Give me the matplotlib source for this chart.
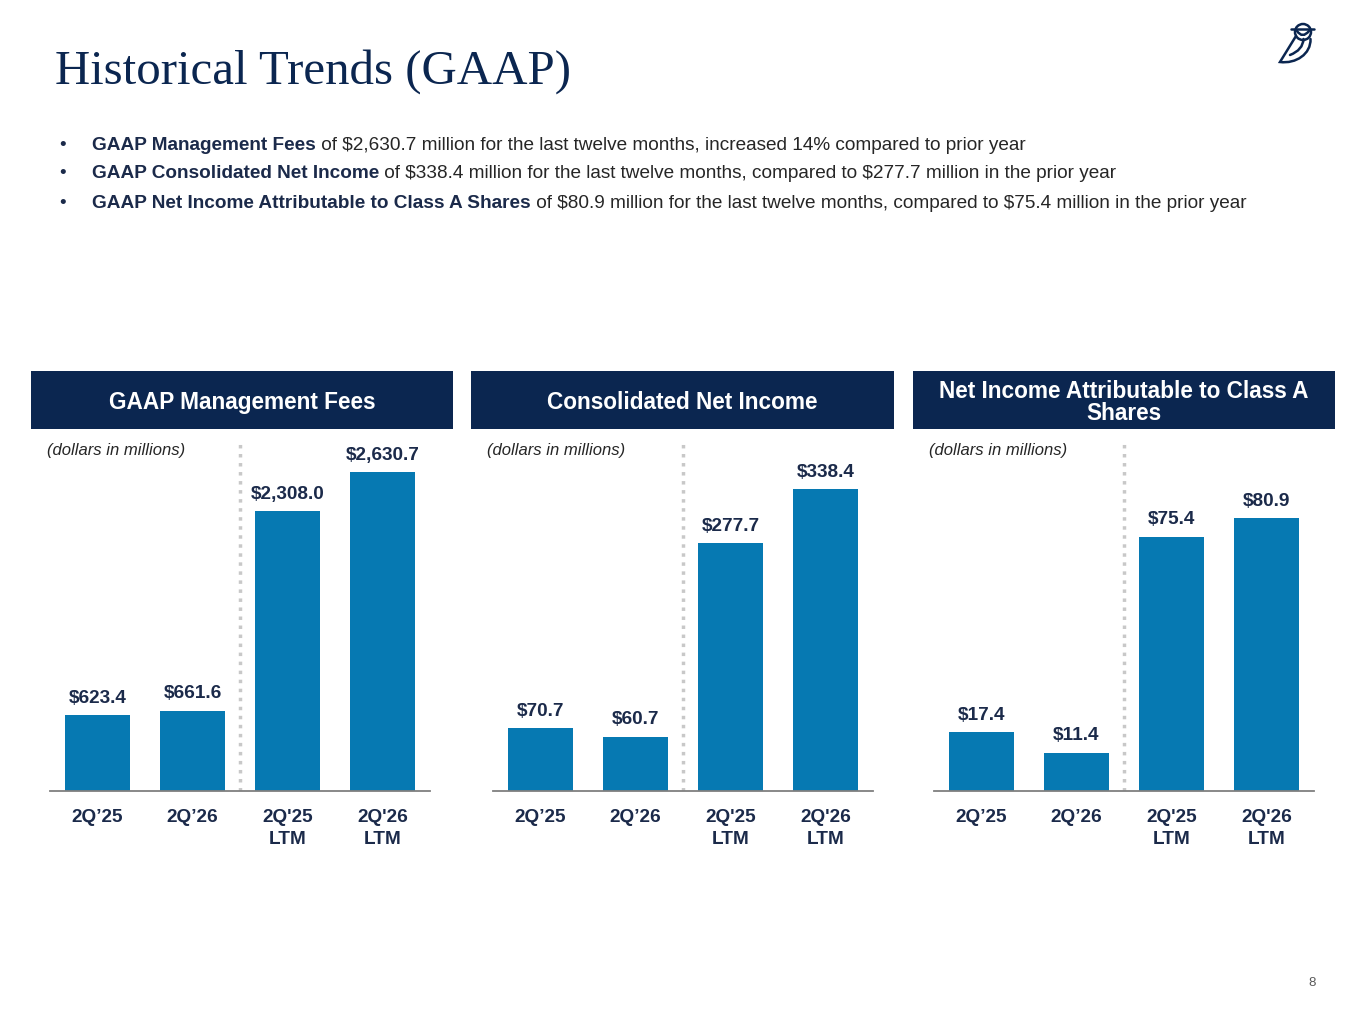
import matplotlib
matplotlib.use('Agg')
import matplotlib.pyplot as plt
from matplotlib.patches import Rectangle, Circle, PathPatch
from matplotlib.path import Path

W, H = 1365, 1024

NAVY = '#0b2650'
TEXT_NAVY = '#1b2a4a'
BAR_BLUE = '#0679b2'
GRAY_TEXT = '#262626'

title = 'Historical Trends (GAAP)'

bullets = [
    ('GAAP Management Fees', ' of $2,630.7 million for the last twelve months, increased 14% compared to prior year'),
    ('GAAP Consolidated Net Income', ' of $338.4 million for the last twelve months, compared to $277.7 million in the prior year'),
    ('GAAP Net Income Attributable to Class A Shares', ' of $80.9 million for the last twelve months, compared to $75.4 million in the prior year'),
]

categories = ['2Q\u201925', '2Q\u201926', "2Q'25\nLTM", "2Q'26\nLTM"]

panel_titles = ['GAAP Management Fees', 'Consolidated Net Income', 'Net Income Attributable to Class A\nShares']

mgmt_fees = [623.4, 661.6, 2308.0, 2630.7]
consolidated_ni = [70.7, 60.7, 277.7, 338.4]
class_a_ni = [17.4, 11.4, 75.4, 80.9]

panel_values = [mgmt_fees, consolidated_ni, class_a_ni]

# layout in pixels
header_boxes = [(31, 453), (471, 894), (913, 1335)]
axes_x = [(50, 430), (493, 873), (934, 1314)]
axes_top, axes_bottom = 440, 791
tallest_bar_px = [319, 302, 273]


def fx(px):
    return px / W


def fy(py):
    return 1 - py / H


plt.rcParams['font.family'] = ['Liberation Sans', 'DejaVu Sans']
plt.rcParams['text.parse_math'] = False

fig = plt.figure(figsize=(W / 100, H / 100), dpi=100)
fig.patch.set_facecolor('white')

# title
fig.text(fx(55), fy(72), title, fontsize=35.2, color=NAVY, family='Liberation Serif',
         ha='left', va='center')

# bullets
renderer = fig.canvas.get_renderer()
for i, (bold, rest) in enumerate(bullets):
    y = fy(145 + i * 29)
    fig.text(fx(59), y, '\u2022', fontsize=13.7, color=TEXT_NAVY, ha='left', va='center')
    t = fig.text(fx(92), y, bold, fontsize=13.7, fontweight='bold', color=TEXT_NAVY,
                 ha='left', va='center')
    bb = t.get_window_extent(renderer=renderer)
    fig.text(bb.x1 / W, y, rest, fontsize=13.7, color=GRAY_TEXT, ha='left', va='center')

# panels
for p in range(3):
    x0, x1 = header_boxes[p]
    fig.patches.append(Rectangle((fx(x0), fy(429)), fx(x1 - x0), (429 - 371) / H,
                                 transform=fig.transFigure, facecolor=NAVY,
                                 edgecolor='none'))
    fig.text(fx((x0 + x1) / 2), fy(402.5), panel_titles[p], fontsize=16.3, fontweight='bold',
             color='white', ha='center', va='center', linespacing=1.0)

    fig.text(fx(x0 + 16), fy(450), '(dollars in millions)', fontsize=12, style='italic',
             color=GRAY_TEXT, ha='left', va='center')

    ax0, ax1 = axes_x[p]
    ax = fig.add_axes([fx(ax0), fy(axes_bottom), fx(ax1 - ax0), (axes_bottom - axes_top) / H])
    vals = panel_values[p]
    ymax = max(vals) * (axes_bottom - axes_top) / tallest_bar_px[p]
    xs = list(range(len(vals)))
    ax.bar(xs, vals, width=0.685, color=BAR_BLUE, zorder=2)
    ax.set_xlim(-0.5, len(vals) - 0.5)
    ax.set_ylim(0, ymax)
    for x, v in zip(xs, vals):
        ax.annotate('${:,.1f}'.format(v), (x, v), xytext=(0, 6), textcoords='offset points',
                    ha='center', va='bottom', fontsize=13.7, fontweight='bold', color=TEXT_NAVY)
    ax.axvline(1.5, ymin=0, ymax=(axes_bottom - 437) / (axes_bottom - axes_top) + 0.01,
               color='#c8c8c8', linestyle=(0, (1, 1.6)), linewidth=2.5, zorder=1)
    ax.set_xticks(xs)
    ax.set_xticklabels(categories, fontsize=13.7, fontweight='bold', color=TEXT_NAVY,
                       linespacing=1.35, va='top')
    ax.tick_params(axis='x', length=0, pad=13)
    ax.set_yticks([])
    for s in ['top', 'left', 'right']:
        ax.spines[s].set_visible(False)
    ax.spines['bottom'].set_color('#7f7f7f')
    ax.spines['bottom'].set_linewidth(1.3)
    ax.patch.set_alpha(0)

# page number
fig.text(fx(1312), fy(983), '8', fontsize=9.5, color='#595959', ha='center', va='center')

# owl logo (simple line drawing)
logo = fig.add_axes([fx(1272), fy(66), fx(50), 50 / H])
logo.set_xlim(0, 50)
logo.set_ylim(0, 50)
logo.set_aspect('equal')
logo.axis('off')
lw = 1.8
owl_style = dict(facecolor='none', edgecolor=NAVY, linewidth=lw, capstyle='round')
logo.add_patch(Circle((31, 34), 8, fill=False, edgecolor=NAVY, linewidth=lw))
logo.add_patch(PathPatch(Path([(19, 37), (42, 37)]), **owl_style))
logo.add_patch(PathPatch(Path([(24, 30), (8, 4), (24, 2), (39, 12), (38.5, 27)],
                              [Path.MOVETO, Path.LINETO, Path.CURVE4, Path.CURVE4, Path.CURVE4]),
                         **owl_style))
logo.add_patch(PathPatch(Path([(18, 11), (31, 16), (31.5, 27)],
                              [Path.MOVETO, Path.CURVE3, Path.CURVE3]), **owl_style))
logo.add_patch(PathPatch(Path([(25, 35), (30.5, 27), (37, 35)],
                              [Path.MOVETO, Path.CURVE3, Path.CURVE3]), **owl_style))

fig.savefig('out.png', dpi=100, facecolor='white')
